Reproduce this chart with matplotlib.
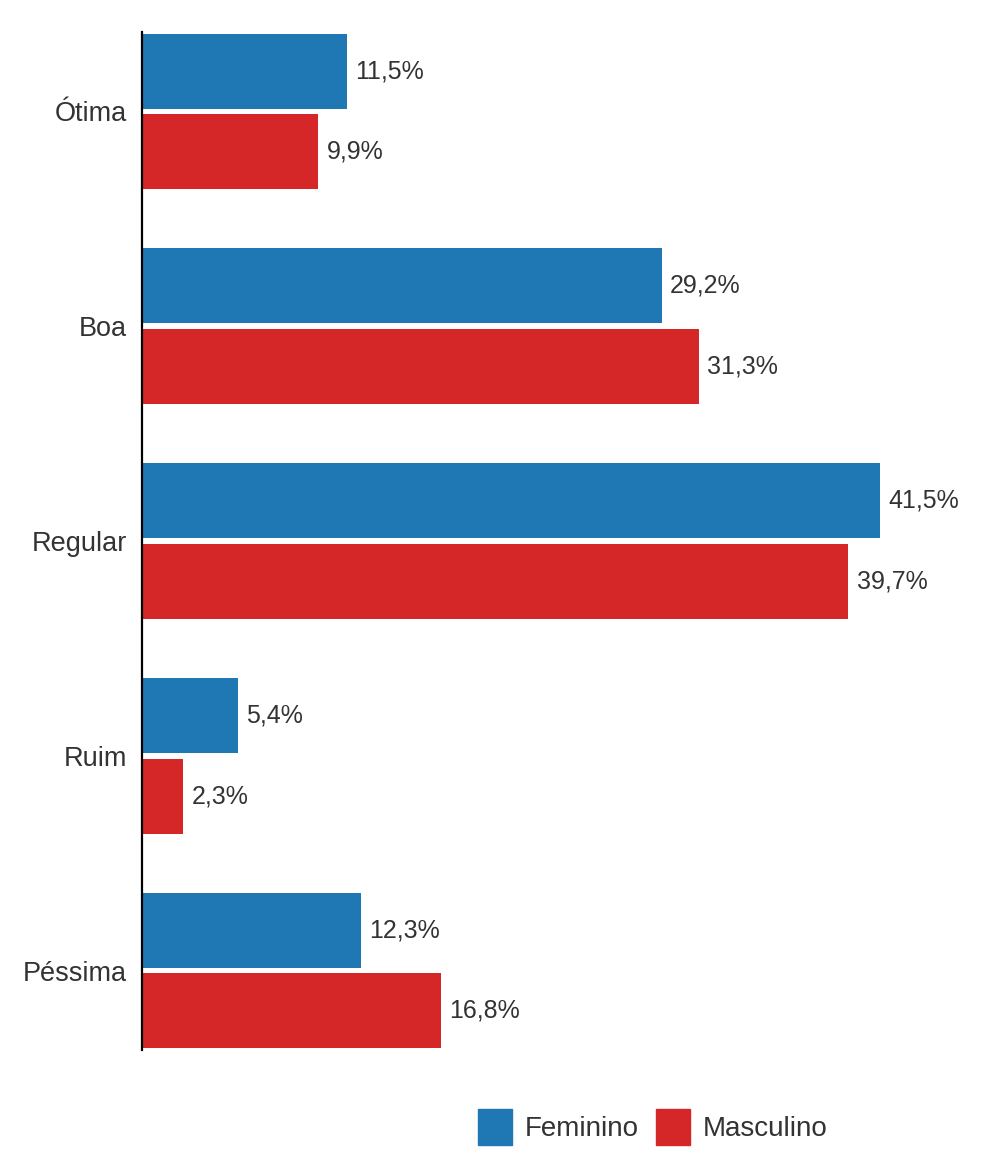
import numpy as np
import matplotlib.pyplot as plt
from matplotlib.patches import Patch

categorias = ['Ótima', 'Boa', 'Regular', 'Ruim', 'Péssima']
feminino = [11.5, 29.2, 41.5, 5.4, 12.3]
masculino = [9.9, 31.3, 39.7, 2.3, 16.8]
series_labels = ['Feminino', 'Masculino']

plt.rcParams['font.family'] = ['Liberation Sans', 'DejaVu Sans']

azul = '#1f77b4'
vermelho = '#d62728'
cor_texto = '#333333'

fig = plt.figure(figsize=(10, 11.68), dpi=100)
ax = fig.add_axes([0.142, 0.101, 0.838, 0.8716])

y = np.arange(len(categorias))
altura = 0.349
desloc = 0.188

ax.barh(y - desloc, feminino, height=altura, color=azul)
ax.barh(y + desloc, masculino, height=altura, color=vermelho)

# Value labels next to each bar
for yi, v in zip(y - desloc, feminino):
    ax.annotate(f'{v:.1f}%'.replace('.', ','), (v, yi), xytext=(6, 0),
                textcoords='offset points', va='center', ha='left',
                fontsize=18, color=cor_texto)
for yi, v in zip(y + desloc, masculino):
    ax.annotate(f'{v:.1f}%'.replace('.', ','), (v, yi), xytext=(6, 0),
                textcoords='offset points', va='center', ha='left',
                fontsize=18, color=cor_texto)

ax.set_xlim(0, 47.1)
ax.set_ylim(len(categorias) - 1 + 0.37, -0.37)
ax.set_yticks(y)
ax.set_yticklabels(categorias, fontsize=19.5, color=cor_texto)
ax.set_xticks([])
ax.tick_params(axis='y', length=0, pad=11)

for s in ['top', 'right', 'bottom']:
    ax.spines[s].set_visible(False)
ax.spines['left'].set_linewidth(1.6)
ax.spines['left'].set_color('black')

handles = [Patch(color=azul, label=series_labels[0]),
           Patch(color=vermelho, label=series_labels[1])]
fig.legend(handles=handles, loc='center', bbox_to_anchor=(0.653, 1 - 1127 / 1168),
           ncol=2, frameon=False, fontsize=20, handlelength=1.22, handleheight=1.6,
           handletextpad=0.47, columnspacing=0.61, labelcolor=cor_texto)

fig.savefig('out.png', dpi=100, facecolor='white')
